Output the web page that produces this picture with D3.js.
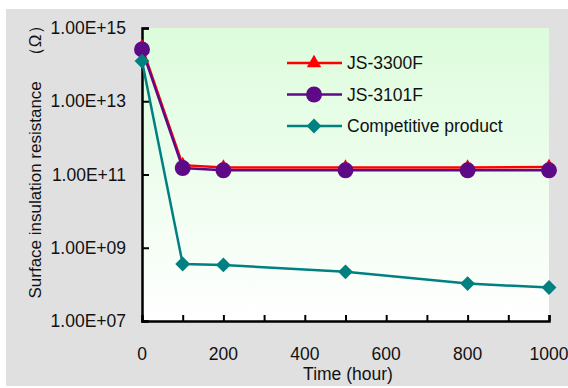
<!DOCTYPE html>
<html>
<head>
<meta charset="utf-8">
<script src="https://cdn.jsdelivr.net/npm/d3@7"></script>
<style>
  body { margin: 0; background: #fff; }
  text { font-family: "Liberation Sans", Arial, sans-serif; fill: #111; }
</style>
</head>
<body>
<div id="chart"></div>
<script>
// data
var hours = [0, 100, 200, 500, 800, 1000];
var js3300f = [3.0e14, 1.8e11, 1.55e11, 1.55e11, 1.55e11, 1.6e11];
var js3101f = [2.6e14, 1.5e11, 1.3e11, 1.3e11, 1.3e11, 1.3e11];
var competitive = [1.25e14, 3.6e8, 3.4e8, 2.2e8, 1.05e8, 8.2e7];
var yTicks = [1e7, 1e9, 1e11, 1e13, 1e15];
var xTicks = [0, 200, 400, 600, 800, 1000];

var W = 568, H = 388;
var svg = d3.select("#chart").append("svg").attr("width", W).attr("height", H);

// outer grey panel
svg.append("rect").attr("x", 6).attr("y", 9).attr("width", W - 6).attr("height", H - 11).attr("fill", "#e0e0e0");

var x = d3.scaleLinear().domain([0, 1000]).range([142, 549]);
var y = d3.scaleLog().domain([1e7, 1e15]).range([321, 28]);

//plot background gradient
var grad = svg.append("defs").append("linearGradient").attr("id", "bg")
  .attr("x1", 0).attr("y1", 0).attr("x2", 0).attr("y2", 1);
grad.append("stop").attr("offset", "0%").attr("stop-color", "#dcfcdc");
grad.append("stop").attr("offset", "100%").attr("stop-color", "#ffffff");
svg.append("rect").attr("x", 142).attr("y", 28).attr("width", 407).attr("height", 293).attr("fill", "url(#bg)");

// x axis
var xAxis = svg.append("g").attr("transform", "translate(0,321)")
  .call(d3.axisBottom(x).tickValues(d3.range(0, 1001, 100)).tickSize(-6).tickFormat(""));
xAxis.select(".domain").attr("stroke", "#000").attr("stroke-width", 2.5);
xAxis.selectAll(".tick line").attr("stroke", "#000").attr("stroke-width", 2);
svg.append("g").selectAll("text").data(xTicks).enter().append("text")
  .attr("x", d => x(d)).attr("y", 360).attr("text-anchor", "middle")
  .attr("font-size", 17.5).text(d => d);

// y axis
var yAxis = svg.append("g").attr("transform", "translate(142,0)")
  .call(d3.axisLeft(y).tickValues(yTicks).tickSize(-7).tickFormat(""));
yAxis.select(".domain").attr("stroke", "#000").attr("stroke-width", 2.5);
yAxis.selectAll(".tick line").attr("stroke", "#000").attr("stroke-width", 2);
svg.append("g").selectAll("text").data(yTicks).enter().append("text")
  .attr("x", 126).attr("y", d => y(d) + 6).attr("text-anchor", "end")
  .attr("font-size", 17.5).text(d => "1.00E+" + String(Math.round(Math.log10(d))).padStart(2, "0"));

// axis titles
svg.append("text").attr("x", 348).attr("y", 380).attr("text-anchor", "middle")
  .attr("font-size", 17.5).text("Time (hour)");
svg.append("text").attr("transform", "translate(41,158) rotate(-90)").attr("text-anchor", "middle")
  .attr("font-size", 17).text("Surface insulation resistance\u3000（Ω）");

var series = [
  { name: "JS-3300F", values: js3300f, color: "#ff0000", shape: d3.symbolTriangle, size: 90, rot: 0 },
  { name: "JS-3101F", values: js3101f, color: "#5e0a86", shape: d3.symbolCircle, size: 200, rot: 0 },
  { name: "Competitive product", values: competitive, color: "#008080", shape: d3.symbolSquare, size: 110, rot: 45 }
];

var line = d3.line().x(d => x(d[0])).y(d => y(d[1]));

series.forEach(function (s) {
  var pts = hours.map((h, i) => [h, s.values[i]]);
  svg.append("path").attr("d", line(pts)).attr("fill", "none")
    .attr("stroke", s.color).attr("stroke-width", 2.5);
  svg.append("g").selectAll("path").data(pts).enter().append("path")
    .attr("d", d3.symbol().type(s.shape).size(s.size))
    .attr("transform", d => "translate(" + x(d[0]) + "," + y(d[1]) + ") rotate(" + s.rot + ")")
    .attr("fill", s.color);
});

// legend
var lg = svg.append("g").selectAll("g").data(series).enter().append("g")
  .attr("transform", (d, i) => "translate(287," + (63 + i * 31.5) + ")");
lg.append("line").attr("x1", 0).attr("x2", 55).attr("stroke", d => d.color).attr("stroke-width", 2.5);
lg.append("path").attr("d", d => d3.symbol().type(d.shape).size(d.size)())
  .attr("transform", d => "translate(27,0) rotate(" + d.rot + ")").attr("fill", d => d.color);
lg.append("text").attr("x", 60).attr("y", 6).attr("font-size", 17.5).text(d => d.name);
</script>
</body>
</html>
